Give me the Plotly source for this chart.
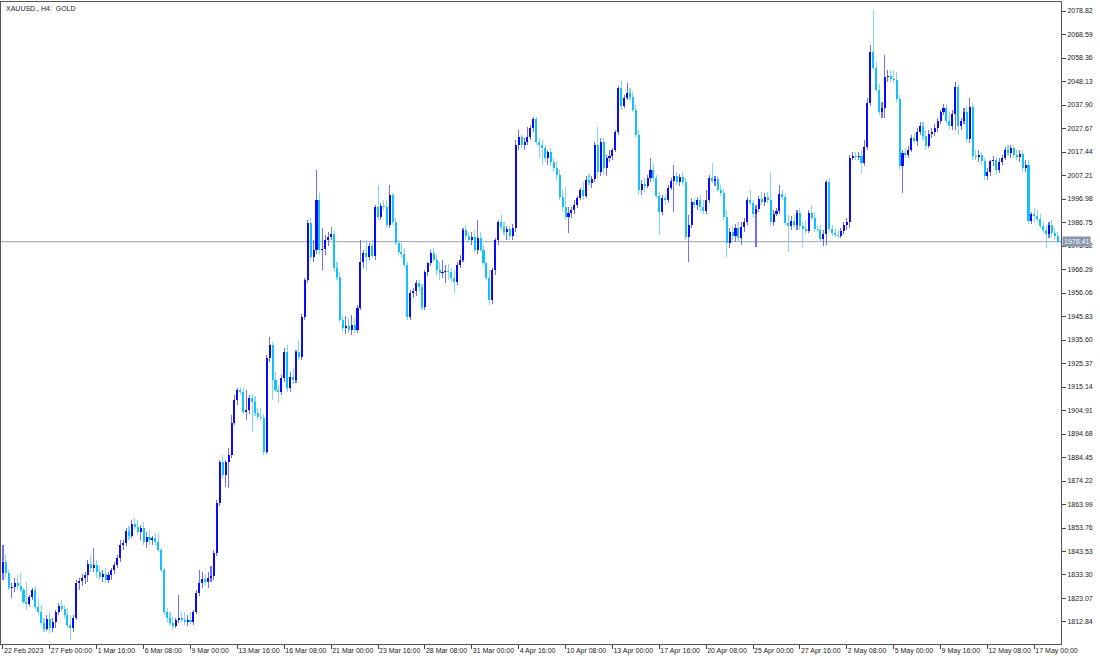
import plotly.graph_objects as go

# ---------------- data (XAUUSD H4) ----------------
time_labels = ["22 Feb 2023", "27 Feb 00:00", "1 Mar 16:00", "6 Mar 08:00", "9 Mar 00:00",
               "13 Mar 16:00", "16 Mar 08:00", "21 Mar 00:00", "23 Mar 16:00", "28 Mar 08:00",
               "31 Mar 00:00", "4 Apr 16:00", "10 Apr 08:00", "13 Apr 00:00", "17 Apr 16:00",
               "20 Apr 08:00", "25 Apr 00:00", "27 Apr 16:00", "2 May 08:00", "5 May 00:00",
               "9 May 16:00", "12 May 08:00", "17 May 00:00"]
bars_per_label = 16

price_ticks = [1812.84, 1823.07, 1833.30, 1843.53, 1853.76, 1863.99, 1874.22, 1884.45, 1894.68,
               1904.91, 1915.14, 1925.37, 1935.60, 1945.83, 1956.06, 1966.29, 1976.52, 1986.75,
               1996.98, 2007.21, 2017.44, 2027.67, 2037.90, 2048.13, 2058.36, 2068.59, 2078.82]

opens = [
    1834.2, 1838.9, 1834.2, 1827.6, 1828.1, 1829.8, 1828.5, 1826.8, 1821.5, 1820.7,
    1823.7, 1826.8, 1819.4, 1817.2, 1812.4, 1809.8, 1814.1, 1810.2, 1812.8, 1817.2,
    1819.8, 1818.5, 1815.9, 1811.5, 1810.2, 1814.6, 1829.8, 1830.7, 1832.0, 1833.3,
    1838.1, 1836.3, 1837.6, 1834.6, 1832.4, 1833.8, 1831.1, 1833.3, 1835.5, 1837.6,
    1840.7, 1846.3, 1847.2, 1852.5, 1850.3, 1855.5, 1854.2, 1852.0, 1853.8, 1847.6,
    1849.8, 1848.5, 1849.4, 1847.6, 1844.2, 1835.5, 1817.2, 1814.6, 1812.4, 1811.1,
    1813.7, 1814.6, 1813.7, 1812.8, 1813.7, 1812.8, 1817.2, 1825.5, 1829.8, 1831.5,
    1830.2, 1832.0, 1832.9, 1842.9, 1864.6, 1882.5, 1876.8, 1882.5, 1885.5, 1899.5,
    1909.5, 1913.8, 1913.0, 1904.2, 1905.1, 1910.3, 1908.6, 1903.8, 1902.1, 1901.6,
    1886.8, 1927.8, 1933.4, 1918.2, 1913.8, 1913.0, 1919.1, 1930.4, 1914.7, 1919.5,
    1918.2, 1930.4, 1928.2, 1945.6, 1961.7, 1986.5, 1971.7, 1974.8, 1996.5, 1974.8,
    1975.2, 1979.1, 1980.4, 1981.7, 1966.9, 1963.0, 1944.3, 1940.8, 1941.7, 1940.0,
    1942.1, 1940.0, 1949.5, 1969.5, 1973.5, 1971.7, 1976.5, 1972.2, 1993.5, 1989.1,
    1993.9, 1993.5, 1985.7, 1998.7, 1987.0, 1977.8, 1973.9, 1973.0, 1968.2, 1945.6,
    1956.1, 1956.9, 1960.4, 1958.7, 1950.0, 1965.2, 1969.1, 1973.5, 1970.4, 1966.1,
    1964.8, 1965.2, 1965.6, 1965.2, 1962.6, 1960.9, 1968.2, 1970.4, 1983.5, 1980.9,
    1979.1, 1980.4, 1974.8, 1980.0, 1974.8, 1969.1, 1962.6, 1953.0, 1966.1, 1979.1,
    1987.0, 1984.8, 1982.6, 1983.9, 1980.9, 1984.4, 2020.5, 2024.0, 2020.5, 2021.8,
    2024.0, 2027.9, 2031.8, 2021.8, 2020.5, 2019.2, 2014.8, 2017.4, 2013.1, 2010.5,
    2007.4, 1997.8, 1993.5, 1989.1, 1990.9, 1992.2, 1994.4, 1997.4, 2000.9, 1998.3,
    2005.2, 2003.9, 2005.7, 2020.5, 2008.7, 2021.8, 2010.5, 2014.8, 2015.7, 2018.3,
    2026.1, 2045.3, 2037.5, 2040.9, 2043.1, 2041.4, 2035.7, 2024.8, 2000.9, 2003.5,
    2002.6, 2006.1, 2009.6, 2006.1, 1998.3, 1991.3, 1997.4, 1996.5, 2001.7, 2004.8,
    2007.0, 2004.4, 2006.5, 2004.4, 1980.4, 1985.7, 1995.7, 1994.4, 1996.5, 1993.5,
    1991.8, 1996.5, 2006.1, 2004.8, 2005.7, 2000.9, 1999.6, 1989.1, 1977.8, 1982.6,
    1980.9, 1984.4, 1980.0, 1984.8, 1987.0, 1996.5, 1995.2, 1990.4, 1992.6, 1997.0,
    1995.7, 1997.8, 1996.5, 1987.0, 1990.4, 1991.8, 1999.1, 1997.8, 1986.5, 1985.2,
    1987.4, 1985.7, 1990.9, 1985.2, 1983.9, 1983.0, 1990.9, 1988.7, 1983.9, 1983.5,
    1979.6, 1981.7, 2004.4, 1983.9, 1982.2, 1981.3, 1980.9, 1983.0, 1985.7, 1987.0,
    2014.8, 2015.7, 2015.3, 2015.7, 2012.6, 2019.6, 2038.8, 2061.0, 2054.0, 2044.4,
    2034.9, 2036.6, 2050.1, 2050.5, 2049.2, 2048.8, 2040.5, 2011.3, 2017.0, 2016.1,
    2018.3, 2023.5, 2022.2, 2026.1, 2028.8, 2024.4, 2020.0, 2025.3, 2026.1, 2027.9,
    2030.9, 2034.9, 2036.6, 2030.9, 2028.8, 2034.0, 2045.7, 2028.8, 2030.9, 2034.9,
    2023.1, 2037.0, 2015.7, 2015.3, 2016.1, 2013.5, 2007.0, 2008.7, 2013.5, 2013.9,
    2009.6, 2013.1, 2014.8, 2018.3, 2017.0, 2019.2, 2016.1, 2015.3, 2016.6, 2010.5,
    2011.8, 1987.4, 1990.4, 1989.6, 1988.3, 1985.2, 1983.5, 1981.7, 1985.7, 1982.2, 1980.9,
]

highs = [
    1846.3, 1842.0, 1835.5, 1829.8, 1832.0, 1833.3, 1834.2, 1827.6, 1830.2, 1824.6,
    1827.6, 1828.5, 1823.3, 1820.2, 1814.6, 1815.9, 1817.2, 1814.6, 1818.1, 1821.1,
    1822.4, 1820.2, 1818.9, 1815.9, 1815.9, 1831.1, 1832.0, 1833.8, 1834.6, 1839.8,
    1842.0, 1845.0, 1839.8, 1837.2, 1835.5, 1836.3, 1834.6, 1836.3, 1838.9, 1842.0,
    1848.5, 1848.5, 1853.8, 1854.6, 1857.2, 1858.1, 1857.2, 1855.1, 1856.4, 1852.0,
    1852.9, 1850.3, 1851.6, 1851.6, 1845.0, 1836.3, 1818.9, 1817.2, 1815.0, 1814.6,
    1824.6, 1817.2, 1817.2, 1815.9, 1817.2, 1818.1, 1826.8, 1835.5, 1834.6, 1833.8,
    1834.6, 1837.2, 1844.2, 1866.0, 1883.4, 1885.5, 1883.4, 1888.6, 1902.9, 1911.6,
    1914.7, 1915.1, 1914.7, 1913.8, 1911.6, 1912.1, 1911.2, 1906.0, 1906.0, 1903.4,
    1929.1, 1936.9, 1934.7, 1921.7, 1916.0, 1920.4, 1932.1, 1933.4, 1921.7, 1923.4,
    1931.2, 1935.6, 1946.9, 1962.6, 1987.8, 1988.7, 1979.1, 2009.6, 1999.6, 1984.4,
    1981.3, 1982.6, 1984.8, 1983.5, 1969.5, 1965.2, 1946.5, 1946.0, 1945.2, 1946.5,
    1945.2, 1950.8, 1979.1, 1974.8, 1979.1, 1977.8, 1979.1, 1994.4, 2003.1, 1995.2,
    1996.5, 1996.5, 2003.1, 1999.6, 1988.7, 1979.1, 1977.8, 1975.6, 1969.5, 1957.4,
    1958.2, 1961.7, 1961.7, 1960.0, 1966.1, 1969.5, 1974.8, 1975.6, 1972.6, 1969.5,
    1970.4, 1968.2, 1968.7, 1966.9, 1966.1, 1969.5, 1972.6, 1984.4, 1985.7, 1982.6,
    1982.6, 1983.5, 1987.8, 1982.6, 1977.0, 1969.5, 1966.1, 1966.9, 1980.0, 1987.8,
    1990.0, 1987.0, 1985.2, 1985.2, 1986.1, 2022.7, 2027.0, 2024.8, 2023.5, 2028.3,
    2029.2, 2032.7, 2032.7, 2023.5, 2022.7, 2020.5, 2018.3, 2019.2, 2014.8, 2013.1,
    2009.6, 2000.9, 2002.2, 1993.5, 1993.5, 1996.5, 1998.3, 2001.7, 2004.4, 2007.0,
    2007.9, 2007.0, 2021.8, 2028.3, 2023.5, 2023.5, 2016.1, 2018.3, 2019.2, 2027.0,
    2046.2, 2048.8, 2042.3, 2047.5, 2045.3, 2043.6, 2037.9, 2027.0, 2005.2, 2006.1,
    2007.4, 2014.8, 2012.6, 2007.4, 2000.0, 1998.7, 1999.1, 2003.1, 2006.1, 2011.8,
    2008.7, 2007.9, 2008.7, 2006.1, 1990.0, 1997.4, 1997.4, 1997.8, 1998.7, 1996.5,
    2000.9, 2007.4, 2012.6, 2007.0, 2007.0, 2003.1, 2001.7, 1992.2, 1984.4, 1985.2,
    1986.1, 1987.0, 1987.0, 1988.7, 1997.8, 2000.9, 1996.5, 1994.4, 1998.3, 2000.0,
    1999.6, 2000.0, 2008.7, 1992.2, 1993.1, 2003.1, 2000.9, 1999.1, 1990.0, 1989.6,
    1990.0, 1992.2, 1993.1, 1987.0, 1987.8, 1992.2, 1994.4, 1991.3, 1985.2, 1985.7,
    1983.5, 2005.2, 2006.1, 1985.7, 1984.4, 1983.5, 1984.4, 1987.0, 1988.7, 2016.1,
    2017.4, 2017.4, 2017.4, 2018.3, 2022.7, 2040.9, 2064.0, 2079.3, 2056.6, 2047.0,
    2039.2, 2059.7, 2053.1, 2053.1, 2053.1, 2052.3, 2042.3, 2018.3, 2019.2, 2020.0,
    2024.8, 2025.7, 2027.9, 2030.5, 2030.5, 2027.0, 2027.0, 2027.9, 2029.6, 2032.2,
    2035.7, 2038.4, 2038.4, 2034.9, 2035.7, 2047.9, 2047.0, 2032.2, 2036.6, 2037.5,
    2040.9, 2038.8, 2018.3, 2018.3, 2017.4, 2014.8, 2010.5, 2013.9, 2015.7, 2015.3,
    2014.8, 2016.1, 2019.6, 2020.5, 2020.5, 2020.0, 2018.3, 2018.3, 2018.3, 2013.9,
    2013.9, 1991.3, 1993.1, 1992.2, 1990.4, 1987.0, 1985.7, 1987.0, 1987.8, 1984.4, 1982.6,
]

lows = [
    1831.1, 1832.0, 1826.8, 1823.3, 1825.9, 1826.8, 1825.9, 1820.7, 1818.1, 1819.8,
    1822.4, 1818.1, 1815.9, 1811.5, 1808.5, 1808.9, 1808.1, 1808.5, 1810.2, 1815.9,
    1817.2, 1814.6, 1810.2, 1805.0, 1808.5, 1813.7, 1826.8, 1828.5, 1829.4, 1830.2,
    1834.6, 1834.6, 1832.0, 1831.1, 1830.2, 1829.8, 1829.8, 1831.1, 1833.8, 1836.3,
    1838.9, 1844.2, 1845.9, 1848.5, 1849.4, 1852.9, 1850.7, 1848.5, 1846.3, 1845.0,
    1846.3, 1846.3, 1845.9, 1843.3, 1834.6, 1815.9, 1812.8, 1811.5, 1809.4, 1810.2,
    1812.4, 1812.8, 1811.5, 1811.1, 1812.0, 1811.5, 1816.3, 1824.2, 1827.6, 1828.5,
    1827.6, 1830.2, 1831.1, 1841.6, 1863.3, 1875.5, 1871.6, 1871.2, 1884.2, 1898.6,
    1907.3, 1911.6, 1903.4, 1900.8, 1903.4, 1895.5, 1902.5, 1900.8, 1900.8, 1885.5,
    1886.0, 1926.0, 1909.5, 1913.0, 1908.2, 1911.6, 1917.3, 1913.0, 1913.0, 1916.4,
    1916.9, 1926.9, 1926.9, 1944.3, 1960.4, 1970.4, 1969.5, 1973.0, 1972.6, 1966.1,
    1972.6, 1976.5, 1979.1, 1965.2, 1961.7, 1943.4, 1939.1, 1938.2, 1938.6, 1937.8,
    1938.6, 1938.6, 1948.7, 1966.9, 1966.1, 1970.4, 1971.3, 1970.4, 1987.8, 1987.8,
    1992.2, 1984.4, 1984.4, 1985.7, 1977.0, 1972.6, 1971.3, 1966.9, 1944.3, 1944.3,
    1953.9, 1954.8, 1956.5, 1948.7, 1948.7, 1963.5, 1967.8, 1969.5, 1963.9, 1961.7,
    1962.6, 1960.4, 1961.7, 1960.9, 1956.1, 1959.6, 1966.9, 1969.5, 1979.1, 1978.3,
    1977.0, 1973.9, 1973.0, 1973.9, 1968.2, 1961.7, 1950.8, 1951.3, 1963.9, 1977.0,
    1983.5, 1981.3, 1979.1, 1979.1, 1979.1, 1982.6, 2018.3, 2019.2, 2018.3, 2020.5,
    2022.7, 2026.1, 2020.5, 2014.8, 2011.8, 2013.1, 2011.8, 2011.3, 2008.7, 2005.2,
    1996.5, 1991.3, 1987.8, 1982.2, 1988.7, 1990.4, 1993.1, 1996.5, 1996.5, 1997.4,
    2003.1, 2001.7, 2004.4, 2006.1, 2007.0, 2007.4, 2007.0, 2013.1, 2013.9, 2017.4,
    2024.8, 2035.7, 2036.6, 2040.1, 2040.1, 2034.9, 2023.5, 1998.7, 1998.7, 2000.0,
    2001.7, 2004.4, 2004.4, 1997.4, 1981.3, 1990.0, 1994.4, 1995.2, 2000.9, 1991.3,
    2003.1, 2002.6, 2003.1, 1979.1, 1969.5, 1984.4, 1993.1, 1992.2, 1991.3, 1990.4,
    1990.4, 1995.2, 2003.9, 2002.6, 2000.0, 1998.3, 1987.8, 1971.7, 1975.6, 1979.1,
    1978.3, 1978.3, 1977.0, 1982.6, 1985.7, 1994.4, 1988.7, 1976.1, 1991.3, 1994.4,
    1993.9, 1995.2, 1985.2, 1985.2, 1989.6, 1990.4, 1996.5, 1985.7, 1973.9, 1983.5,
    1984.4, 1983.5, 1983.5, 1976.1, 1981.7, 1982.2, 1987.8, 1982.6, 1982.6, 1978.3,
    1976.5, 1977.0, 1982.6, 1980.9, 1980.4, 1980.0, 1980.0, 1981.7, 1983.5, 1984.4,
    2013.9, 2013.9, 2013.9, 2008.3, 2011.3, 2018.3, 2037.5, 2053.1, 2043.6, 2033.5,
    2032.2, 2032.2, 2047.9, 2047.9, 2047.5, 2039.2, 2009.6, 1999.6, 2014.8, 2014.8,
    2017.4, 2021.4, 2020.0, 2024.8, 2022.7, 2018.3, 2019.2, 2023.5, 2024.4, 2026.1,
    2029.6, 2033.5, 2029.6, 2027.0, 2027.0, 2027.0, 2024.8, 2027.0, 2029.6, 2021.8,
    2021.4, 2013.9, 2013.9, 2013.1, 2011.8, 2005.2, 2005.2, 2007.0, 2011.3, 2007.9,
    2008.3, 2011.8, 2013.9, 2015.7, 2014.8, 2014.8, 2013.9, 2013.1, 2008.7, 2008.7,
    1986.1, 1986.1, 1987.0, 1987.0, 1984.4, 1982.2, 1975.6, 1980.0, 1980.4, 1979.1, 1977.8,
]

closes = [
    1838.9, 1834.2, 1827.6, 1828.1, 1829.8, 1828.5, 1826.8, 1821.5, 1820.7, 1823.7,
    1826.8, 1819.4, 1817.2, 1812.4, 1809.8, 1814.1, 1810.2, 1812.8, 1817.2, 1819.8,
    1818.5, 1815.9, 1811.5, 1810.2, 1814.6, 1829.8, 1830.7, 1832.0, 1833.3, 1838.1,
    1836.3, 1837.6, 1834.6, 1832.4, 1833.8, 1831.1, 1833.3, 1835.5, 1837.6, 1840.7,
    1846.3, 1847.2, 1852.5, 1850.3, 1855.5, 1854.2, 1852.0, 1853.8, 1847.6, 1849.8,
    1848.5, 1849.4, 1847.6, 1844.2, 1835.5, 1817.2, 1814.6, 1812.4, 1811.1, 1813.7,
    1814.6, 1813.7, 1812.8, 1813.7, 1812.8, 1817.2, 1825.5, 1829.8, 1831.5, 1830.2,
    1832.0, 1832.9, 1842.9, 1864.6, 1882.5, 1876.8, 1882.5, 1885.5, 1899.5, 1909.5,
    1913.8, 1913.0, 1904.2, 1905.1, 1910.3, 1908.6, 1903.8, 1902.1, 1901.6, 1886.8,
    1927.8, 1933.4, 1918.2, 1913.8, 1913.0, 1919.1, 1930.4, 1914.7, 1919.5, 1918.2,
    1930.4, 1928.2, 1945.6, 1961.7, 1986.5, 1971.7, 1974.8, 1996.5, 1974.8, 1975.2,
    1979.1, 1980.4, 1981.7, 1966.9, 1963.0, 1944.3, 1940.8, 1941.7, 1940.0, 1942.1,
    1940.0, 1949.5, 1969.5, 1973.5, 1971.7, 1976.5, 1972.2, 1993.5, 1989.1, 1993.9,
    1993.5, 1985.7, 1998.7, 1987.0, 1977.8, 1973.9, 1973.0, 1968.2, 1945.6, 1956.1,
    1956.9, 1960.4, 1958.7, 1950.0, 1965.2, 1969.1, 1973.5, 1970.4, 1966.1, 1964.8,
    1965.2, 1965.6, 1965.2, 1962.6, 1960.9, 1968.2, 1970.4, 1983.5, 1980.9, 1979.1,
    1980.4, 1974.8, 1980.0, 1974.8, 1969.1, 1962.6, 1953.0, 1966.1, 1979.1, 1987.0,
    1984.8, 1982.6, 1983.9, 1980.9, 1984.4, 2020.5, 2024.0, 2020.5, 2021.8, 2024.0,
    2027.9, 2031.8, 2021.8, 2020.5, 2019.2, 2014.8, 2017.4, 2013.1, 2010.5, 2007.4,
    1997.8, 1993.5, 1989.1, 1990.9, 1992.2, 1994.4, 1997.4, 2000.9, 1998.3, 2005.2,
    2003.9, 2005.7, 2020.5, 2008.7, 2021.8, 2010.5, 2014.8, 2015.7, 2018.3, 2026.1,
    2045.3, 2037.5, 2040.9, 2043.1, 2041.4, 2035.7, 2024.8, 2000.9, 2003.5, 2002.6,
    2006.1, 2009.6, 2006.1, 1998.3, 1991.3, 1997.4, 1996.5, 2001.7, 2004.8, 2007.0,
    2004.4, 2006.5, 2004.4, 1980.4, 1985.7, 1995.7, 1994.4, 1996.5, 1993.5, 1991.8,
    1996.5, 2006.1, 2004.8, 2005.7, 2000.9, 1999.6, 1989.1, 1977.8, 1982.6, 1980.9,
    1984.4, 1980.0, 1984.8, 1987.0, 1996.5, 1995.2, 1990.4, 1992.6, 1997.0, 1995.7,
    1997.8, 1996.5, 1987.0, 1990.4, 1991.8, 1999.1, 1997.8, 1986.5, 1985.2, 1987.4,
    1985.7, 1990.9, 1985.2, 1983.9, 1983.0, 1990.9, 1988.7, 1983.9, 1983.5, 1979.6,
    1981.7, 2004.4, 1983.9, 1982.2, 1981.3, 1980.9, 1983.0, 1985.7, 1987.0, 2014.8,
    2015.7, 2015.3, 2015.7, 2012.6, 2019.6, 2038.8, 2061.0, 2054.0, 2044.4, 2034.9,
    2036.6, 2050.1, 2050.5, 2049.2, 2048.8, 2040.5, 2011.3, 2017.0, 2016.1, 2018.3,
    2023.5, 2022.2, 2026.1, 2028.8, 2024.4, 2020.0, 2025.3, 2026.1, 2027.9, 2030.9,
    2034.9, 2036.6, 2030.9, 2028.8, 2034.0, 2045.7, 2028.8, 2030.9, 2034.9, 2023.1,
    2037.0, 2015.7, 2015.3, 2016.1, 2013.5, 2007.0, 2008.7, 2013.5, 2013.9, 2009.6,
    2013.1, 2014.8, 2018.3, 2017.0, 2019.2, 2016.1, 2015.3, 2016.6, 2010.5, 2011.8,
    1987.4, 1990.4, 1989.6, 1988.3, 1985.2, 1983.5, 1981.7, 1985.7, 1982.2, 1980.9, 1978.41,
]

symbol_title = "XAUUSD., H4:  GOLD"

# ---------------- styling ----------------
UP_BODY, UP_WICK = "#0A0AFF", "#6E6EFF"
DN_BODY, DN_WICK = "#10C0FF", "#80D8FF"
FONT = "Liberation Sans"
TICK_SIZE = 7

n = len(closes)
idx = list(range(n))
is_up = [c >= o for o, c in zip(opens, closes)]

wick_len = [h - l for h, l in zip(highs, lows)]
body_base = [min(o, c) for o, c in zip(opens, closes)]
body_len = [max(abs(c - o), 0.35) for o, c in zip(opens, closes)]

fig = go.Figure()
fig.add_trace(go.Bar(
    x=idx, y=wick_len, base=lows, width=0.36,
    marker=dict(color=[UP_WICK if u else DN_WICK for u in is_up], line=dict(width=0)),
    hoverinfo="skip", showlegend=False))
fig.add_trace(go.Bar(
    x=idx, y=body_len, base=body_base, width=0.70,
    marker=dict(color=[UP_BODY if u else DN_BODY for u in is_up], line=dict(width=0)),
    hoverinfo="skip", showlegend=False))

last_price = closes[-1]
fig.add_shape(type="line", xref="paper", x0=0, x1=1, yref="y", y0=last_price, y1=last_price,
              line=dict(color="#9AA2AC", width=1), layer="below")

fig.add_annotation(text=f"{last_price:.2f}", xref="paper", x=1, xanchor="left", xshift=1,
                   yref="y", y=last_price, showarrow=False, bgcolor="#8595AC",
                   font=dict(family=FONT, size=TICK_SIZE, color="white"), borderpad=1)

fig.add_annotation(text=symbol_title, xref="paper", yref="paper", x=0, y=1, xanchor="left",
                   yanchor="top", xshift=3, yshift=-1, showarrow=False,
                   font=dict(family=FONT, size=TICK_SIZE, color="#222222"))

fig.update_layout(
    width=1100, height=660,
    margin=dict(l=1, r=39, t=2, b=16, autoexpand=False),
    paper_bgcolor="white", plot_bgcolor="white",
    barmode="overlay", bargap=0,
    showlegend=False,
    xaxis=dict(
        range=[-0.68, n + 0.1],
        tickmode="array",
        tickvals=[k * bars_per_label for k in range(len(time_labels))],
        ticktext=time_labels,
        tickangle=0,
        automargin=False,
        ticks="outside", ticklen=4, tickcolor="#444444",
        ticklabelposition="outside right",
        tickfont=dict(family=FONT, size=TICK_SIZE, color="#222222"),
        showgrid=False, zeroline=False,
        showline=True, linecolor="#555555", linewidth=1, mirror=True,
        fixedrange=True,
    ),
    yaxis=dict(
        side="right",
        range=[1803.26, 2082.74],
        tickmode="array",
        tickvals=price_ticks,
        ticktext=[f"{v:.2f}" for v in price_ticks],
        automargin=False,
        ticks="outside", ticklen=4, tickcolor="#444444",
        tickfont=dict(family=FONT, size=TICK_SIZE, color="#222222"),
        showgrid=False, zeroline=False,
        showline=True, linecolor="#555555", linewidth=1, mirror=True,
        fixedrange=True,
    ),
)

fig.write_html(
    "out.html",
    config={"displayModeBar": False, "staticPlot": True},
    post_script="document.body.style.margin='0';document.body.style.overflow='hidden';",
)
